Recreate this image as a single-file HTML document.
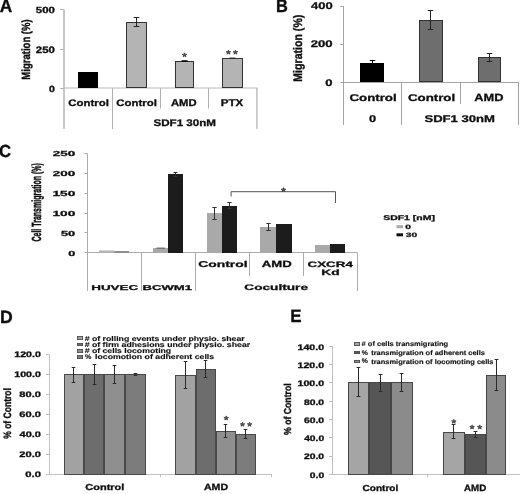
<!DOCTYPE html>
<html><head><meta charset="utf-8"><style>
html,body{margin:0;padding:0;background:#fff;}
svg{display:block;font-family:"Liberation Sans",sans-serif;text-rendering:geometricPrecision;}
</style></head><body>
<svg width="520" height="494" viewBox="0 0 520 494">
<rect width="520" height="494" fill="#fff"/>
<defs><filter id="bl" filterUnits="userSpaceOnUse" x="0" y="0" width="520" height="494"><feGaussianBlur stdDeviation="0.3"/></filter></defs>
<g filter="url(#bl)">
<text transform="translate(-0.23,12.20) scale(0.43226,0.45059)" font-size="40" font-weight="bold" fill="#111" stroke="#111" stroke-width="0.793">A</text>
<text transform="translate(29.89,79.64) rotate(-90) scale(0.23810,0.29631)" font-size="40" font-weight="bold" fill="#111" stroke="#111" stroke-width="1.318">Migration (%)</text>
<text transform="translate(35.85,12.61) scale(0.28497,0.22246)" font-size="40" font-weight="bold" fill="#111" stroke="#111" stroke-width="1.390">500</text>
<text transform="translate(35.80,52.71) scale(0.28567,0.23305)" font-size="40" font-weight="bold" fill="#111" stroke="#111" stroke-width="1.356">250</text>
<text transform="translate(48.98,91.51) scale(0.26283,0.22246)" font-size="40" font-weight="bold" fill="#111" stroke="#111" stroke-width="1.447">0</text>
<line x1="64.0" y1="9.6" x2="64.0" y2="129" stroke="#b4b4b4" stroke-width="1.5"/>
<line x1="60.3" y1="9.5" x2="63.7" y2="9.5" stroke="#b0b0b0" stroke-width="1"/>
<line x1="60.3" y1="49.5" x2="63.7" y2="49.5" stroke="#b0b0b0" stroke-width="1"/>
<line x1="60.3" y1="88.5" x2="63.7" y2="88.5" stroke="#b0b0b0" stroke-width="1"/>
<line x1="63.5" y1="88.0" x2="257.5" y2="88.0" stroke="#b8b8b8" stroke-width="1.1"/>
<line x1="112.5" y1="88.3" x2="112.5" y2="129" stroke="#b0b0b0" stroke-width="1"/>
<line x1="160.5" y1="88.3" x2="160.5" y2="108.7" stroke="#b0b0b0" stroke-width="1"/>
<line x1="208.5" y1="88.3" x2="208.5" y2="108.7" stroke="#b0b0b0" stroke-width="1"/>
<line x1="256.9" y1="88.0" x2="256.9" y2="129" stroke="#b4b4b4" stroke-width="1.3"/>
<rect x="78.50" y="72.50" width="19.00" height="15.00" fill="#000" stroke="#000" stroke-width="1"/>
<rect x="126.50" y="22.50" width="20.00" height="65.00" fill="#b4b4b4" stroke="#333" stroke-width="1"/>
<path d="M133.70 17.50H139.30M136.50 17.50V26.50M133.70 26.50H139.30" stroke="#222" stroke-width="1" fill="none"/>
<rect x="175.50" y="61.50" width="18.00" height="26.00" fill="#b4b4b4" stroke="#333" stroke-width="1"/>
<rect x="181.60" y="60.20" width="6.00" height="1.80" fill="#111"/>
<rect x="222.50" y="58.50" width="20.00" height="29.00" fill="#b4b4b4" stroke="#333" stroke-width="1"/>
<rect x="229.50" y="57.60" width="6.00" height="1.40" fill="#222"/>
<text transform="translate(68.23,106.11) scale(0.28537,0.23149)" font-size="40" font-weight="bold" fill="#111" stroke="#111" stroke-width="1.362">Control</text>
<text transform="translate(116.23,106.11) scale(0.28537,0.23149)" font-size="40" font-weight="bold" fill="#111" stroke="#111" stroke-width="1.362">Control</text>
<text transform="translate(170.92,106.20) scale(0.28162,0.24710)" font-size="40" font-weight="bold" fill="#111" stroke="#111" stroke-width="1.327">AMD</text>
<text transform="translate(220.73,106.20) scale(0.28890,0.24710)" font-size="40" font-weight="bold" fill="#111" stroke="#111" stroke-width="1.310">PTX</text>
<text transform="translate(153.47,126.19) scale(0.28993,0.23961)" font-size="40" font-weight="bold" fill="#111" stroke="#111" stroke-width="1.328">SDF1 30nM</text>
<polygon points="184.50,52.80 185.16,54.23 186.88,54.35 185.57,55.36 185.97,56.87 184.50,56.06 183.03,56.87 183.43,55.36 182.12,54.35 183.84,54.23" fill="#555" stroke="#2a2a2a" stroke-width="0.6" stroke-linejoin="round"/>
<polygon points="228.40,50.10 229.06,51.53 230.78,51.65 229.47,52.66 229.87,54.17 228.40,53.36 226.93,54.17 227.33,52.66 226.02,51.65 227.74,51.53" fill="#555" stroke="#2a2a2a" stroke-width="0.6" stroke-linejoin="round"/>
<polygon points="235.40,50.10 236.06,51.53 237.78,51.65 236.47,52.66 236.87,54.17 235.40,53.36 233.93,54.17 234.33,52.66 233.02,51.65 234.74,51.53" fill="#555" stroke="#2a2a2a" stroke-width="0.6" stroke-linejoin="round"/>
<text transform="translate(276.00,12.20) scale(0.40993,0.45422)" font-size="40" font-weight="bold" fill="#111" stroke="#111" stroke-width="0.811">B</text>
<text transform="translate(302.38,81.71) rotate(-90) scale(0.26465,0.30966)" font-size="40" font-weight="bold" fill="#111" stroke="#111" stroke-width="1.223">Migration (%)</text>
<text transform="translate(311.00,9.40) scale(0.32407,0.24364)" font-size="40" font-weight="bold" fill="#111" stroke="#111" stroke-width="1.246">400</text>
<text transform="translate(310.75,47.31) scale(0.32804,0.24011)" font-size="40" font-weight="bold" fill="#111" stroke="#111" stroke-width="1.247">200</text>
<text transform="translate(325.28,85.91) scale(0.32591,0.24011)" font-size="40" font-weight="bold" fill="#111" stroke="#111" stroke-width="1.251">0</text>
<line x1="343.5" y1="6.1" x2="343.5" y2="125" stroke="#a4a4a4" stroke-width="1"/>
<line x1="340.3" y1="6.5" x2="343.6" y2="6.5" stroke="#a4a4a4" stroke-width="1"/>
<line x1="340.3" y1="44.5" x2="343.6" y2="44.5" stroke="#a4a4a4" stroke-width="1"/>
<line x1="340.3" y1="82.5" x2="343.6" y2="82.5" stroke="#a4a4a4" stroke-width="1"/>
<line x1="343.6" y1="82.5" x2="519" y2="82.5" stroke="#a4a4a4" stroke-width="1"/>
<line x1="401.5" y1="82.3" x2="401.5" y2="125" stroke="#a4a4a4" stroke-width="1"/>
<line x1="460.5" y1="82.3" x2="460.5" y2="104" stroke="#a4a4a4" stroke-width="1"/>
<line x1="518.5" y1="82.3" x2="518.5" y2="125" stroke="#a4a4a4" stroke-width="1"/>
<rect x="360.50" y="63.50" width="23.00" height="18.00" fill="#000" stroke="#000" stroke-width="1"/>
<path d="M369.80 60.50H375.20M372.50 60.50V64.50M369.80 64.50H375.20" stroke="#000" stroke-width="1" fill="none"/>
<rect x="419.50" y="20.50" width="23.00" height="61.00" fill="#6e6e6e" stroke="#333" stroke-width="1"/>
<path d="M427.80 10.50H433.20M430.50 10.50V29.50M427.80 29.50H433.20" stroke="#222" stroke-width="1" fill="none"/>
<rect x="478.50" y="57.50" width="22.00" height="24.00" fill="#6e6e6e" stroke="#333" stroke-width="1"/>
<path d="M486.80 53.50H492.20M489.50 53.50V61.50M486.80 61.50H492.20" stroke="#222" stroke-width="1" fill="none"/>
<text transform="translate(349.46,101.20) scale(0.33185,0.24511)" font-size="40" font-weight="bold" fill="#111" stroke="#111" stroke-width="1.227">Control</text>
<text transform="translate(407.96,101.20) scale(0.33185,0.24511)" font-size="40" font-weight="bold" fill="#111" stroke="#111" stroke-width="1.227">Control</text>
<text transform="translate(474.28,101.30) scale(0.32007,0.26163)" font-size="40" font-weight="bold" fill="#111" stroke="#111" stroke-width="1.209">AMD</text>
<text transform="translate(368.89,122.30) scale(0.32066,0.24364)" font-size="40" font-weight="bold" fill="#111" stroke="#111" stroke-width="1.252">0</text>
<text transform="translate(424.42,122.29) scale(0.32676,0.24314)" font-size="40" font-weight="bold" fill="#111" stroke="#111" stroke-width="1.242">SDF1 30nM</text>
<text transform="translate(-1.08,156.63) scale(0.41679,0.43785)" font-size="40" font-weight="bold" fill="#111" stroke="#111" stroke-width="0.819">C</text>
<text transform="translate(40.59,241.59) rotate(-90) scale(0.17583,0.33101)" font-size="40" font-weight="bold" fill="#111" stroke="#111" stroke-width="1.451">Cell Transmigration (%)</text>
<text transform="translate(68.20,255.63) scale(0.31540,0.18361)" font-size="40" font-weight="bold" fill="#111" stroke="#111" stroke-width="1.454">0</text>
<text transform="translate(61.01,235.77) scale(0.31955,0.18361)" font-size="40" font-weight="bold" fill="#111" stroke="#111" stroke-width="1.445">50</text>
<text transform="translate(52.44,215.91) scale(0.34197,0.18361)" font-size="40" font-weight="bold" fill="#111" stroke="#111" stroke-width="1.397">100</text>
<text transform="translate(52.44,196.05) scale(0.34197,0.18361)" font-size="40" font-weight="bold" fill="#111" stroke="#111" stroke-width="1.397">150</text>
<text transform="translate(52.83,176.19) scale(0.33589,0.18361)" font-size="40" font-weight="bold" fill="#111" stroke="#111" stroke-width="1.409">200</text>
<text transform="translate(52.83,156.33) scale(0.33589,0.18361)" font-size="40" font-weight="bold" fill="#111" stroke="#111" stroke-width="1.409">250</text>
<line x1="87.5" y1="153.8" x2="87.5" y2="291" stroke="#acacac" stroke-width="1"/>
<line x1="84.5" y1="252.5" x2="87.5" y2="252.5" stroke="#acacac" stroke-width="1"/>
<line x1="84.5" y1="232.5" x2="87.5" y2="232.5" stroke="#acacac" stroke-width="1"/>
<line x1="84.5" y1="213.5" x2="87.5" y2="213.5" stroke="#acacac" stroke-width="1"/>
<line x1="84.5" y1="193.5" x2="87.5" y2="193.5" stroke="#acacac" stroke-width="1"/>
<line x1="84.5" y1="173.5" x2="87.5" y2="173.5" stroke="#acacac" stroke-width="1"/>
<line x1="84.5" y1="153.5" x2="87.5" y2="153.5" stroke="#acacac" stroke-width="1"/>
<line x1="87.5" y1="252.5" x2="357.4" y2="252.5" stroke="#acacac" stroke-width="1"/>
<line x1="141.5" y1="252.5" x2="141.5" y2="291" stroke="#acacac" stroke-width="1"/>
<line x1="195.5" y1="252.5" x2="195.5" y2="291" stroke="#acacac" stroke-width="1"/>
<line x1="249.5" y1="252.5" x2="249.5" y2="276" stroke="#acacac" stroke-width="1"/>
<line x1="303.5" y1="252.5" x2="303.5" y2="276" stroke="#acacac" stroke-width="1"/>
<line x1="357.5" y1="252.5" x2="357.5" y2="291" stroke="#acacac" stroke-width="1"/>
<rect x="99.00" y="250.40" width="15.20" height="2.20" fill="#b8b8b8"/>
<rect x="114.20" y="251.20" width="14.80" height="1.40" fill="#777"/>
<rect x="153.00" y="248.00" width="15.00" height="5.00" fill="#a9a9a9"/>
<rect x="156.50" y="247.60" width="8.50" height="1.00" fill="#555"/>
<rect x="168.00" y="174.00" width="15.00" height="79.00" fill="#1c1c1c"/>
<path d="M173.50 172.50H177.50M175.50 172.50V176.50M173.50 176.50H177.50" stroke="#333" stroke-width="1" fill="none"/>
<rect x="207.00" y="213.00" width="15.00" height="40.00" fill="#a9a9a9"/>
<path d="M212.30 207.50H216.70M214.50 207.50V219.50M212.30 219.50H216.70" stroke="#333" stroke-width="1" fill="none"/>
<rect x="222.00" y="206.00" width="15.00" height="47.00" fill="#1c1c1c"/>
<path d="M227.30 202.50H231.70M229.50 202.50V208.50M227.30 208.50H231.70" stroke="#333" stroke-width="1" fill="none"/>
<rect x="260.00" y="227.00" width="16.00" height="26.00" fill="#a9a9a9"/>
<path d="M266.30 223.50H270.70M268.50 223.50V230.50M266.30 230.50H270.70" stroke="#333" stroke-width="1" fill="none"/>
<rect x="276.00" y="224.00" width="16.00" height="29.00" fill="#1c1c1c"/>
<rect x="315.00" y="245.00" width="15.00" height="8.00" fill="#a9a9a9"/>
<rect x="330.00" y="244.00" width="15.00" height="9.00" fill="#1c1c1c"/>
<path d="M231.1 196.5V191.7H335.5V203" stroke="#555" stroke-width="1" fill="none"/>
<polygon points="283.50,187.60 284.16,189.03 285.88,189.15 284.57,190.16 284.97,191.67 283.50,190.86 282.03,191.67 282.43,190.16 281.12,189.15 282.84,189.03" fill="#555" stroke="#2a2a2a" stroke-width="0.6" stroke-linejoin="round"/>
<text transform="translate(91.20,289.53) scale(0.33615,0.17655)" font-size="40" font-weight="bold" fill="#111" stroke="#111" stroke-width="1.437">HUVEC</text>
<text transform="translate(142.42,289.53) scale(0.32857,0.17655)" font-size="40" font-weight="bold" fill="#111" stroke="#111" stroke-width="1.453">BCWM1</text>
<text transform="translate(198.23,266.52) scale(0.34637,0.21106)" font-size="40" font-weight="bold" fill="#111" stroke="#111" stroke-width="1.294">Control</text>
<text transform="translate(261.67,266.60) scale(0.32912,0.22529)" font-size="40" font-weight="bold" fill="#111" stroke="#111" stroke-width="1.285">AMD</text>
<text transform="translate(307.45,266.52) scale(0.33500,0.19774)" font-size="40" font-weight="bold" fill="#111" stroke="#111" stroke-width="1.360">CXCR4</text>
<text transform="translate(321.37,274.92) scale(0.34578,0.19745)" font-size="40" font-weight="bold" fill="#111" stroke="#111" stroke-width="1.340">Kd</text>
<text transform="translate(244.34,290.22) scale(0.34083,0.20085)" font-size="40" font-weight="bold" fill="#111" stroke="#111" stroke-width="1.338">Coculture</text>
<text transform="translate(383.20,220.03) scale(0.26138,0.16949)" font-size="40" font-weight="bold" fill="#111" stroke="#111" stroke-width="1.663">SDF1 [nM]</text>
<rect x="396.50" y="225.20" width="6.50" height="3.00" fill="#aaa"/>
<rect x="396.50" y="233.30" width="6.50" height="3.00" fill="#111"/>
<text transform="translate(405.29,228.74) scale(0.25758,0.15537)" font-size="40" font-weight="bold" fill="#111" stroke="#111" stroke-width="1.750">0</text>
<text transform="translate(405.76,236.63) scale(0.25755,0.15504)" font-size="40" font-weight="bold" fill="#111" stroke="#111" stroke-width="1.751">30</text>
<text transform="translate(-0.08,322.60) scale(0.44025,0.44332)" font-size="40" font-weight="bold" fill="#111" stroke="#111" stroke-width="0.792">D</text>
<text transform="translate(10.90,438.81) rotate(-90) scale(0.21333,0.26553)" font-size="40" font-weight="bold" fill="#111" stroke="#111" stroke-width="1.471">% of Control</text>
<text transform="translate(25.25,476.97) scale(0.28254,0.20127)" font-size="40" font-weight="bold" fill="#111" stroke="#111" stroke-width="1.468">0.0</text>
<text transform="translate(19.31,457.04) scale(0.27798,0.20127)" font-size="40" font-weight="bold" fill="#111" stroke="#111" stroke-width="1.480">20.0</text>
<text transform="translate(19.53,437.11) scale(0.27511,0.20127)" font-size="40" font-weight="bold" fill="#111" stroke="#111" stroke-width="1.487">40.0</text>
<text transform="translate(19.29,417.18) scale(0.27828,0.20127)" font-size="40" font-weight="bold" fill="#111" stroke="#111" stroke-width="1.479">60.0</text>
<text transform="translate(19.35,397.25) scale(0.27755,0.20127)" font-size="40" font-weight="bold" fill="#111" stroke="#111" stroke-width="1.481">80.0</text>
<text transform="translate(14.23,377.32) scale(0.26684,0.20127)" font-size="40" font-weight="bold" fill="#111" stroke="#111" stroke-width="1.510">100.0</text>
<text transform="translate(14.23,357.39) scale(0.26684,0.20127)" font-size="40" font-weight="bold" fill="#111" stroke="#111" stroke-width="1.510">120.0</text>
<line x1="49.5" y1="354.62" x2="49.5" y2="474.2" stroke="#c0c0c0" stroke-width="1"/>
<line x1="46.0" y1="474.5" x2="49.2" y2="474.5" stroke="#c0c0c0" stroke-width="1"/>
<line x1="46.0" y1="454.5" x2="49.2" y2="454.5" stroke="#c0c0c0" stroke-width="1"/>
<line x1="46.0" y1="434.5" x2="49.2" y2="434.5" stroke="#c0c0c0" stroke-width="1"/>
<line x1="46.0" y1="414.5" x2="49.2" y2="414.5" stroke="#c0c0c0" stroke-width="1"/>
<line x1="46.0" y1="394.5" x2="49.2" y2="394.5" stroke="#c0c0c0" stroke-width="1"/>
<line x1="46.0" y1="374.5" x2="49.2" y2="374.5" stroke="#c0c0c0" stroke-width="1"/>
<line x1="46.0" y1="354.5" x2="49.2" y2="354.5" stroke="#c0c0c0" stroke-width="1"/>
<line x1="49.2" y1="474.5" x2="272.0" y2="474.5" stroke="#c0c0c0" stroke-width="1"/>
<line x1="160.5" y1="474.2" x2="160.5" y2="477.2" stroke="#c0c0c0" stroke-width="1"/>
<line x1="271.5" y1="474.2" x2="271.5" y2="477.2" stroke="#c0c0c0" stroke-width="1"/>
<rect x="64.50" y="374.50" width="19.00" height="100.00" fill="#a2a2a2" stroke="#4a4a4a" stroke-width="1"/>
<rect x="84.50" y="374.50" width="19.00" height="100.00" fill="#6d6d6d" stroke="#4a4a4a" stroke-width="1"/>
<rect x="104.50" y="374.50" width="20.00" height="100.00" fill="#8f8f8f" stroke="#4a4a4a" stroke-width="1"/>
<rect x="125.50" y="374.50" width="20.00" height="100.00" fill="#7c7c7c" stroke="#4a4a4a" stroke-width="1"/>
<rect x="175.50" y="375.50" width="20.00" height="99.00" fill="#a2a2a2" stroke="#4a4a4a" stroke-width="1"/>
<rect x="196.50" y="369.50" width="19.00" height="105.00" fill="#6d6d6d" stroke="#4a4a4a" stroke-width="1"/>
<rect x="216.50" y="431.50" width="19.00" height="43.00" fill="#8f8f8f" stroke="#4a4a4a" stroke-width="1"/>
<rect x="236.50" y="434.50" width="19.00" height="40.00" fill="#7c7c7c" stroke="#4a4a4a" stroke-width="1"/>
<path d="M71.70 367.50H75.30M73.50 367.50V382.50M71.70 382.50H75.30" stroke="#2a2a2a" stroke-width="1" fill="none"/>
<path d="M92.70 364.50H96.30M94.50 364.50V384.50M92.70 384.50H96.30" stroke="#2a2a2a" stroke-width="1" fill="none"/>
<path d="M112.70 365.50H116.30M114.50 365.50V383.50M112.70 383.50H116.30" stroke="#2a2a2a" stroke-width="1" fill="none"/>
<path d="M133.70 373.50H137.30M135.50 373.50V375.50M133.70 375.50H137.30" stroke="#2a2a2a" stroke-width="1" fill="none"/>
<path d="M183.70 361.50H187.30M185.50 361.50V388.50M183.70 388.50H187.30" stroke="#2a2a2a" stroke-width="1" fill="none"/>
<path d="M203.70 360.50H207.30M205.50 360.50V377.50M203.70 377.50H207.30" stroke="#2a2a2a" stroke-width="1" fill="none"/>
<path d="M223.70 424.50H227.30M225.50 424.50V437.50M223.70 437.50H227.30" stroke="#2a2a2a" stroke-width="1" fill="none"/>
<path d="M243.70 429.50H247.30M245.50 429.50V438.50M243.70 438.50H247.30" stroke="#2a2a2a" stroke-width="1" fill="none"/>
<polygon points="226.20,415.90 226.86,417.33 228.58,417.45 227.27,418.46 227.67,419.97 226.20,419.16 224.73,419.97 225.13,418.46 223.82,417.45 225.54,417.33" fill="#555" stroke="#2a2a2a" stroke-width="0.6" stroke-linejoin="round"/>
<polygon points="242.50,422.20 243.16,423.63 244.88,423.75 243.57,424.76 243.97,426.27 242.50,425.46 241.03,426.27 241.43,424.76 240.12,423.75 241.84,423.63" fill="#555" stroke="#2a2a2a" stroke-width="0.6" stroke-linejoin="round"/>
<polygon points="249.60,422.20 250.26,423.63 251.98,423.75 250.67,424.76 251.07,426.27 249.60,425.46 248.13,426.27 248.53,424.76 247.22,423.75 248.94,423.63" fill="#555" stroke="#2a2a2a" stroke-width="0.6" stroke-linejoin="round"/>
<text transform="translate(85.35,489.82) scale(0.27375,0.21447)" font-size="40" font-weight="bold" fill="#111" stroke="#111" stroke-width="1.444">Control</text>
<text transform="translate(203.94,489.80) scale(0.26578,0.22529)" font-size="40" font-weight="bold" fill="#111" stroke="#111" stroke-width="1.430">AMD</text>
<rect x="77.40" y="336.40" width="5.20" height="3.20" fill="#a2a2a2" stroke="#444" stroke-width="0.8"/>
<text transform="translate(84.65,340.50) scale(0.21824,0.17251)" font-size="40" font-weight="bold" fill="#111" stroke="#111" stroke-width="0.773"># of rolling events under physio. shear</text>
<rect x="77.40" y="343.40" width="5.20" height="2.20" fill="#6d6d6d" stroke="#444" stroke-width="0.8"/>
<text transform="translate(84.65,346.70) scale(0.21833,0.17251)" font-size="40" font-weight="bold" fill="#111" stroke="#111" stroke-width="0.773"># of firm adhesions under physio. shear</text>
<rect x="77.40" y="349.40" width="5.20" height="3.20" fill="#8f8f8f" stroke="#444" stroke-width="0.8"/>
<text transform="translate(84.65,352.90) scale(0.21751,0.17251)" font-size="40" font-weight="bold" fill="#111" stroke="#111" stroke-width="0.774"># of cells locomoting</text>
<rect x="77.40" y="355.40" width="5.20" height="3.20" fill="#7c7c7c" stroke="#444" stroke-width="0.8"/>
<text transform="translate(85.12,359.05) scale(0.17902,0.17055)" font-size="40" font-weight="bold" fill="#111" stroke="#111" stroke-width="0.858">%</text>
<text transform="translate(94.99,359.10) scale(0.21886,0.17251)" font-size="40" font-weight="bold" fill="#111" stroke="#111" stroke-width="0.772">locomotion of adherent cells</text>
<text transform="translate(290.37,322.30) scale(0.42332,0.44696)" font-size="40" font-weight="bold" fill="#111" stroke="#111" stroke-width="0.805">E</text>
<text transform="translate(291.40,434.92) rotate(-90) scale(0.21675,0.25191)" font-size="40" font-weight="bold" fill="#111" stroke="#111" stroke-width="1.498">% of Control</text>
<text transform="translate(309.79,477.77) scale(0.25772,0.20127)" font-size="40" font-weight="bold" fill="#111" stroke="#111" stroke-width="1.537">0.0</text>
<text transform="translate(303.94,459.46) scale(0.25927,0.20127)" font-size="40" font-weight="bold" fill="#111" stroke="#111" stroke-width="1.532">20.0</text>
<text transform="translate(304.14,441.15) scale(0.25660,0.20127)" font-size="40" font-weight="bold" fill="#111" stroke="#111" stroke-width="1.540">40.0</text>
<text transform="translate(303.92,422.84) scale(0.25955,0.20127)" font-size="40" font-weight="bold" fill="#111" stroke="#111" stroke-width="1.531">60.0</text>
<text transform="translate(303.97,404.53) scale(0.25887,0.20127)" font-size="40" font-weight="bold" fill="#111" stroke="#111" stroke-width="1.533">80.0</text>
<text transform="translate(297.53,386.22) scale(0.26580,0.20127)" font-size="40" font-weight="bold" fill="#111" stroke="#111" stroke-width="1.513">100.0</text>
<text transform="translate(297.53,367.91) scale(0.26580,0.20127)" font-size="40" font-weight="bold" fill="#111" stroke="#111" stroke-width="1.513">120.0</text>
<text transform="translate(297.53,349.60) scale(0.26580,0.20127)" font-size="40" font-weight="bold" fill="#111" stroke="#111" stroke-width="1.513">140.0</text>
<line x1="332.5" y1="346.23" x2="332.5" y2="474.4" stroke="#c0c0c0" stroke-width="1"/>
<line x1="329.0" y1="474.5" x2="332.0" y2="474.5" stroke="#c0c0c0" stroke-width="1"/>
<line x1="329.0" y1="456.5" x2="332.0" y2="456.5" stroke="#c0c0c0" stroke-width="1"/>
<line x1="329.0" y1="437.5" x2="332.0" y2="437.5" stroke="#c0c0c0" stroke-width="1"/>
<line x1="329.0" y1="419.5" x2="332.0" y2="419.5" stroke="#c0c0c0" stroke-width="1"/>
<line x1="329.0" y1="401.5" x2="332.0" y2="401.5" stroke="#c0c0c0" stroke-width="1"/>
<line x1="329.0" y1="382.5" x2="332.0" y2="382.5" stroke="#c0c0c0" stroke-width="1"/>
<line x1="329.0" y1="364.5" x2="332.0" y2="364.5" stroke="#c0c0c0" stroke-width="1"/>
<line x1="329.0" y1="346.5" x2="332.0" y2="346.5" stroke="#c0c0c0" stroke-width="1"/>
<line x1="332.0" y1="474.5" x2="520" y2="474.5" stroke="#c0c0c0" stroke-width="1"/>
<line x1="427.5" y1="474.4" x2="427.5" y2="477.4" stroke="#c0c0c0" stroke-width="1"/>
<rect x="348.50" y="382.50" width="20.00" height="92.00" fill="#a5a5a5" stroke="#474747" stroke-width="1"/>
<rect x="369.50" y="382.50" width="21.00" height="92.00" fill="#575757" stroke="#474747" stroke-width="1"/>
<rect x="391.50" y="382.50" width="21.00" height="92.00" fill="#8b8b8b" stroke="#474747" stroke-width="1"/>
<rect x="443.50" y="432.50" width="21.00" height="42.00" fill="#a5a5a5" stroke="#474747" stroke-width="1"/>
<rect x="465.50" y="434.50" width="20.00" height="40.00" fill="#575757" stroke="#474747" stroke-width="1"/>
<rect x="486.50" y="375.50" width="19.00" height="99.00" fill="#8b8b8b" stroke="#474747" stroke-width="1"/>
<path d="M356.60 367.50H360.40M358.50 367.50V396.50M356.60 396.50H360.40" stroke="#2a2a2a" stroke-width="1" fill="none"/>
<path d="M378.60 374.50H382.40M380.50 374.50V391.50M378.60 391.50H382.40" stroke="#2a2a2a" stroke-width="1" fill="none"/>
<path d="M399.60 373.50H403.40M401.50 373.50V391.50M399.60 391.50H403.40" stroke="#2a2a2a" stroke-width="1" fill="none"/>
<path d="M451.60 424.50H455.40M453.50 424.50V438.50M451.60 438.50H455.40" stroke="#2a2a2a" stroke-width="1" fill="none"/>
<path d="M473.60 431.50H477.40M475.50 431.50V437.50M473.60 437.50H477.40" stroke="#2a2a2a" stroke-width="1" fill="none"/>
<path d="M494.60 359.50H498.40M496.50 359.50V390.50M494.60 390.50H498.40" stroke="#2a2a2a" stroke-width="1" fill="none"/>
<polygon points="453.80,419.30 454.46,420.73 456.18,420.85 454.87,421.86 455.27,423.37 453.80,422.56 452.33,423.37 452.73,421.86 451.42,420.85 453.14,420.73" fill="#555" stroke="#2a2a2a" stroke-width="0.6" stroke-linejoin="round"/>
<polygon points="472.10,424.90 472.76,426.33 474.48,426.45 473.17,427.46 473.57,428.97 472.10,428.16 470.63,428.97 471.03,427.46 469.72,426.45 471.44,426.33" fill="#555" stroke="#2a2a2a" stroke-width="0.6" stroke-linejoin="round"/>
<polygon points="479.70,424.90 480.36,426.33 482.08,426.45 480.77,427.46 481.17,428.97 479.70,428.16 478.23,428.97 478.63,427.46 477.32,426.45 479.04,426.33" fill="#555" stroke="#2a2a2a" stroke-width="0.6" stroke-linejoin="round"/>
<text transform="translate(362.59,490.61) scale(0.25052,0.21787)" font-size="40" font-weight="bold" fill="#111" stroke="#111" stroke-width="1.498">Control</text>
<text transform="translate(464.06,490.80) scale(0.24316,0.22893)" font-size="40" font-weight="bold" fill="#111" stroke="#111" stroke-width="1.483">AMD</text>
<rect x="354.40" y="342.40" width="5.20" height="3.20" fill="#a5a5a5" stroke="#444" stroke-width="0.8"/>
<text transform="translate(361.57,345.80) scale(0.18737,0.16561)" font-size="40" font-weight="bold" fill="#111" stroke="#111" stroke-width="0.852"># of cells transmigrating</text>
<rect x="354.40" y="351.40" width="5.20" height="2.20" fill="#575757" stroke="#444" stroke-width="0.8"/>
<text transform="translate(361.83,354.65) scale(0.17305,0.16700)" font-size="40" font-weight="bold" fill="#111" stroke="#111" stroke-width="0.882">%</text>
<text transform="translate(371.21,354.70) scale(0.18669,0.16561)" font-size="40" font-weight="bold" fill="#111" stroke="#111" stroke-width="0.853">transmigration of adherent cells</text>
<rect x="354.40" y="360.40" width="5.20" height="2.20" fill="#8b8b8b" stroke="#444" stroke-width="0.8"/>
<text transform="translate(361.83,363.45) scale(0.17305,0.16700)" font-size="40" font-weight="bold" fill="#111" stroke="#111" stroke-width="0.882">%</text>
<text transform="translate(371.21,363.50) scale(0.18654,0.16561)" font-size="40" font-weight="bold" fill="#111" stroke="#111" stroke-width="0.853">transmigration of locomoting cells</text>
</g>
</svg>
</body></html>
